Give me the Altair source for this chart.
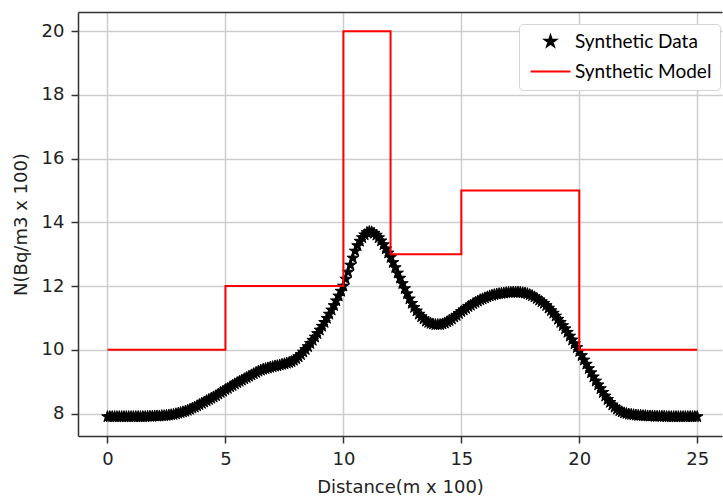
import altair as alt
import pandas as pd

# Synthetic data profile sampled every 0.1 (m x 100), one row per unit of distance
distance = [round(i * 0.1, 1) for i in range(251)]
synthetic_data = [
    7.90, 7.90, 7.90, 7.90, 7.90, 7.90, 7.90, 7.90, 7.90, 7.90,
    7.90, 7.90, 7.90, 7.90, 7.90, 7.90, 7.90, 7.91, 7.91, 7.91,
    7.92, 7.92, 7.92, 7.93, 7.93, 7.94, 7.95, 7.96, 7.97, 7.99,
    8.01, 8.03, 8.05, 8.07, 8.10, 8.13, 8.17, 8.20, 8.24, 8.28,
    8.32, 8.36, 8.40, 8.44, 8.48, 8.52, 8.56, 8.61, 8.66, 8.70,
    8.75, 8.79, 8.84, 8.88, 8.93, 8.97, 9.01, 9.05, 9.09, 9.13,
    9.17, 9.21, 9.25, 9.29, 9.33, 9.36, 9.39, 9.41, 9.43, 9.45,
    9.47, 9.49, 9.50, 9.52, 9.54, 9.56, 9.58, 9.60, 9.63, 9.67,
    9.72, 9.78, 9.85, 9.93, 10.01, 10.10, 10.20, 10.30, 10.40, 10.51,
    10.62, 10.74, 10.86, 10.99, 11.12, 11.25, 11.39, 11.54, 11.69, 11.84,
    12.00, 12.22, 12.44, 12.66, 12.88, 13.10, 13.27, 13.41, 13.52, 13.61,
    13.68, 13.71, 13.70, 13.66, 13.60, 13.52, 13.42, 13.30, 13.17, 13.04,
    12.90, 12.74, 12.58, 12.41, 12.25, 12.08, 11.92, 11.76, 11.60, 11.46,
    11.33, 11.22, 11.12, 11.04, 10.97, 10.90, 10.86, 10.83, 10.81, 10.79,
    10.79, 10.79, 10.81, 10.84, 10.88, 10.92, 10.97, 11.03, 11.08, 11.14,
    11.20, 11.25, 11.30, 11.36, 11.40, 11.45, 11.49, 11.53, 11.57, 11.60,
    11.63, 11.66, 11.69, 11.71, 11.73, 11.75, 11.76, 11.77, 11.78, 11.79,
    11.80, 11.80, 11.81, 11.81, 11.81, 11.80, 11.79, 11.78, 11.76, 11.73,
    11.70, 11.66, 11.61, 11.56, 11.51, 11.46, 11.39, 11.31, 11.23, 11.15,
    11.06, 10.96, 10.86, 10.76, 10.66, 10.55, 10.43, 10.31, 10.19, 10.07,
    9.95, 9.82, 9.68, 9.55, 9.41, 9.28, 9.15, 9.02, 8.90, 8.78,
    8.66, 8.55, 8.44, 8.35, 8.27, 8.20, 8.14, 8.09, 8.05, 8.02,
    8.00, 7.98, 7.97, 7.96, 7.95, 7.94, 7.94, 7.93, 7.93, 7.92,
    7.92, 7.92, 7.91, 7.91, 7.91, 7.91, 7.91, 7.90, 7.90, 7.90,
    7.90, 7.90, 7.90, 7.90, 7.90, 7.90, 7.90, 7.90, 7.90, 7.90,
    7.90,
]

# Block model: value holds from each break to the next one
model_breaks = [0, 5, 10, 12, 15, 20, 25]
model_values = [10, 12, 20, 13, 15, 10, 10]

series_names = ["Synthetic Data", "Synthetic Model"]
series_colors = ["black", "red"]

# Five-point star and a short horizontal segment, both in [-1, 1] units
STAR = ("M0,-1L0.2245,-0.309L0.951,-0.309L0.363,0.118L0.588,0.809L0,0.382"
        "L-0.588,0.809L-0.363,0.118L-0.951,-0.309L-0.2245,-0.309Z")
SEGMENT = "M-3.5,0L3.5,0"

data_df = pd.DataFrame({"distance": distance, "value": synthetic_data,
                        "series": series_names[0]})
model_df = pd.DataFrame({"distance": model_breaks, "value": model_values})

x_scale = alt.Scale(domain=[-1.25, 26.05], nice=False, zero=False)
y_scale = alt.Scale(domain=[7.295, 20.605], nice=False, zero=False)
color_scale = alt.Scale(domain=series_names, range=series_colors)
shape_scale = alt.Scale(domain=series_names, range=[STAR, SEGMENT])

x_axis = alt.Axis(values=[0, 5, 10, 15, 20, 25], title="Distance(m x 100)",
                  tickSize=7, labelPadding=7, titleY=56,
                  titleBaseline="alphabetic")
x_top = alt.Axis(orient="top", labels=False, ticks=False, grid=False,
                 title=None, domainColor="#333333", domainWidth=1.5)
y_axis = alt.Axis(values=[8, 10, 12, 14, 16, 18, 20], title="N(Bq/m3 x 100)",
                  tickSize=7, labelPadding=7, titleX=-52, titleY=212,
                  titleBaseline="alphabetic", titleAlign="center")

legend = alt.Legend(
    title=None, orient="none", legendX=441, legendY=12,
    fillColor="white", strokeColor="#d5d5d5", cornerRadius=4,
    padding=8, rowPadding=10, symbolSize=130, symbolOffset=14,
    symbolStrokeWidth=2, symbolOpacity=1,
    labelOffset=15, labelFont="Lato", labelFontSize=19, labelColor="black",
)

points = alt.Chart(data_df).mark_point(
    filled=True, size=150, opacity=1, strokeWidth=1
).encode(
    x=alt.X("distance:Q", scale=x_scale, axis=x_axis),
    y=alt.Y("value:Q", scale=y_scale, axis=y_axis),
    color=alt.Color("series:N", scale=color_scale, legend=legend),
    stroke=alt.Stroke("series:N", scale=color_scale, legend=legend),
    shape=alt.Shape("series:N", scale=shape_scale, legend=legend),
)

model = alt.Chart(model_df).mark_line(
    interpolate="step-after", strokeWidth=2, color="red"
).encode(
    x=alt.X("distance:Q", scale=x_scale, axis=x_top),
    y=alt.Y("value:Q", scale=y_scale, axis=y_axis),
)

chart = alt.layer(points, model).resolve_axis(x="independent").properties(
    width=644, height=424,
    autosize=alt.AutoSizeParams(type="none"),
    padding={"left": 78, "top": 12, "right": 1, "bottom": 61},
    background="white",
).configure_view(stroke=None).configure_axis(
    labelFont="DejaVu Sans", labelFontSize=18, labelColor="#222222",
    titleFont="DejaVu Sans", titleFontSize=18, titleFontWeight="normal",
    titleColor="#222222", tickColor="#333333", tickWidth=1.5,
    domainColor="#333333", domainWidth=1.5,
    gridColor="#cdcdcd", gridWidth=1.5,
)

chart.save("out.html", embed_options={"renderer": "svg", "actions": False})
